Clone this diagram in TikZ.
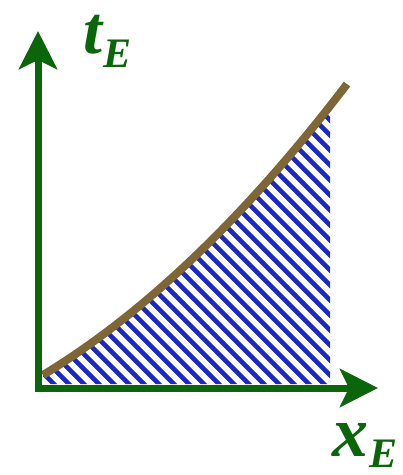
\documentclass[tikz,border=0pt]{standalone}
\usepackage{fontspec}
\setmainfont{Liberation Serif}
\usetikzlibrary{arrows.meta}
\definecolor{axgreen}{HTML}{0B660B}
\definecolor{curvebrown}{HTML}{7F6637}
\definecolor{hatchblue}{HTML}{1C28C4}
\newcommand{\sublabel}[4]{{\fontsize{#1}{#1}\selectfont #2}\kern1pt\raisebox{#4}{\fontsize{42}{42}\selectfont #3}}
\tikzset{
  axisline/.style={draw=axgreen, line width=7pt, -{Stealth[length=38pt,width=38pt,inset=9pt]}},
  curveline/.style={draw=curvebrown, line width=8pt},
  hatchline/.style={draw=hatchblue, line width=4.6pt},
  axlabel/.style={text=axgreen, anchor=base west, inner sep=0pt, font=\bfseries\itshape}
}
\begin{document}
\begin{tikzpicture}[x=1pt,y=-1pt]
\useasboundingbox (0,0) rectangle (403,475);
% hatched region under the curve
\begin{scope}
  \clip (43,384) -- plot[domain=43:330,samples=60] (\x,{375-(0.6044*(\x-43)+0.001164*(\x-43)*(\x-43))}) -- (330,384) -- cycle;
  \foreach \i in {-420,-405,...,420} \draw[hatchline] (\i,0) -- ++(480,480);
\end{scope}
% curve
\draw[curveline] plot[domain=43:347,samples=80] (\x,{375-(0.6044*(\x-43)+0.001164*(\x-43)*(\x-43))});
% axes
\coordinate (corner) at (38,392);
\coordinate (ytip) at (38,31);
\coordinate (xstart) at (35,388);
\coordinate (xtip) at (378,388);
\draw[axisline] (corner) -- (ytip);
\draw[axisline] (xstart) -- (xtip);
% labels
\node[axlabel] (tlabel) at (83,53) {\sublabel{68}{t}{E}{-14pt}};
\node[axlabel] (xlabel) at (332,456) {\sublabel{72}{x}{E}{-11pt}};
\end{tikzpicture}
\end{document}
